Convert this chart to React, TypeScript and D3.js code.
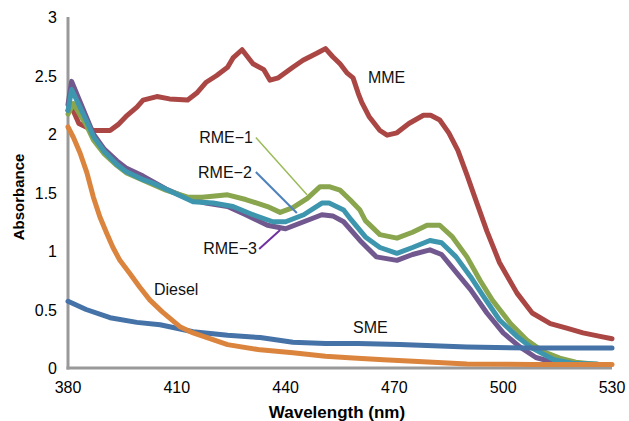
import * as d3 from 'd3';
import React, { useEffect, useRef } from 'react';

// wavelength (nm), absorbance
const mme: [number, number][] = [
    [380, 2.2], [381, 2.23], [383, 2.09], [387, 2.03], [391.6, 2.03], [393.8, 2.08],
    [396, 2.15], [399, 2.23], [400.7, 2.29], [404.5, 2.32], [408, 2.3], [413, 2.29], [415.5, 2.35],
    [418, 2.44], [421, 2.5], [424, 2.57], [425.5, 2.65], [428, 2.72], [429.5, 2.66],
    [431, 2.6], [434, 2.55], [435.7, 2.46], [438, 2.48], [442, 2.57], [444.8, 2.63],
    [448.6, 2.69], [451, 2.73], [453, 2.66], [455, 2.6], [457, 2.52], [458.6, 2.48],
    [460, 2.35], [461, 2.27], [463, 2.15], [466, 2.03], [468, 1.99], [470.7, 2.01],
    [474, 2.09], [478, 2.16], [480, 2.16], [482.5, 2.12], [485, 2.01], [487.5, 1.86],
    [490, 1.65], [492.5, 1.43], [495.5, 1.17], [499, 0.9], [503.8, 0.64], [508, 0.47],
    [513, 0.38], [517.5, 0.34], [522, 0.3], [526.7, 0.27], [530, 0.25],
];
const rme1: [number, number][] = [
    [380, 2.17], [381.5, 2.26], [383, 2.18], [385, 2.08], [387, 1.95], [390, 1.83],
    [393.5, 1.73], [396, 1.67], [401.8, 1.59], [407, 1.52], [413, 1.46], [417, 1.46],
    [424, 1.48], [429, 1.44], [435, 1.38], [438.5, 1.33], [442, 1.37], [446, 1.45],
    [449.5, 1.55], [452, 1.55], [455, 1.52], [457.7, 1.44], [460.5, 1.35], [462, 1.26],
    [466, 1.14], [470.7, 1.11], [475, 1.16], [479, 1.22], [482.5, 1.22], [486, 1.12],
    [490, 0.95], [493.6, 0.75], [497, 0.58], [502, 0.38], [506.5, 0.24], [511, 0.14],
    [515.6, 0.085], [520, 0.05], [526, 0.03],
];
const rme2: [number, number][] = [
    [380, 2.2], [381, 2.38], [383, 2.25], [385, 2.12], [387, 1.98], [390, 1.85],
    [393.5, 1.74], [396, 1.68], [400.7, 1.61], [403.4, 1.58], [409, 1.5], [414.5, 1.42],
    [420, 1.41], [425.5, 1.38], [431, 1.31], [436.5, 1.25], [440, 1.25], [445, 1.31],
    [450, 1.41], [452, 1.41], [456, 1.35], [458, 1.27], [462, 1.12], [466, 1.03],
    [470.7, 0.98], [475, 1.03], [479.8, 1.09], [483, 1.07], [487, 0.95], [491, 0.78],
    [494.6, 0.61], [499, 0.41], [503.8, 0.27], [508, 0.17], [514, 0.07], [519, 0.04],
    [526, 0.035],
];
const rme3: [number, number][] = [
    [380, 2.25], [381, 2.45], [383, 2.3], [385, 2.15], [387, 2.0], [390, 1.87],
    [393.5, 1.77], [396, 1.71], [400.7, 1.64], [407, 1.53], [413, 1.45], [418, 1.41],
    [424, 1.38], [429, 1.31], [435, 1.22], [440, 1.19], [445, 1.25], [450, 1.31],
    [453, 1.3], [456, 1.25], [460.5, 1.09], [465, 0.95], [470.7, 0.92], [475, 0.97],
    [479.8, 1.01], [483, 0.97], [487, 0.82], [491, 0.67], [495.5, 0.47], [500, 0.3],
    [504.6, 0.18], [509, 0.09], [513.7, 0.05], [520, 0.04],
];
const diesel: [number, number][] = [
    [380, 2.06], [381.5, 1.97], [383.3, 1.84], [385.2, 1.67], [387, 1.46], [388.8, 1.29],
    [390.7, 1.15], [392.4, 1.03], [394.3, 0.92], [397, 0.81], [399.8, 0.69], [402.6, 0.58],
    [406, 0.48], [411, 0.35], [414.5, 0.3], [424, 0.2], [433, 0.155], [442, 0.13],
    [451, 0.1], [458.6, 0.085], [467, 0.07], [480.6, 0.05], [490, 0.035], [508, 0.03],
    [530, 0.03],
];
const sme: [number, number][] = [
    [380, 0.57], [385, 0.5], [391.6, 0.43], [399, 0.39], [405.4, 0.37], [414.5, 0.31],
    [424, 0.28], [433, 0.26], [442, 0.22], [451, 0.21], [460, 0.21], [471.5, 0.2],
    [490, 0.18], [508, 0.17], [530, 0.17],
];

const xTicks = [380, 410, 440, 470, 500, 530];
const yTicks = [0, 0.5, 1, 1.5, 2, 2.5, 3];

const App = () => {
    const svgRef = useRef<SVGSVGElement | null>(null);

    useEffect(() => {
        const width = 629;
        const height = 421;
        const svg = d3.select(svgRef.current);
        svg.selectAll('*').remove();

        const x = d3.scaleLinear().domain([380, 530]).range([68, 612]);
        const y = d3.scaleLinear().domain([0, 3]).range([368, 17]);

        const font = '"Liberation Sans", Arial, Helvetica, sans-serif';
        svg.attr('width', width).attr('height', height).style('font-family', font);

        const line = d3
            .line<[number, number]>()
            .x((d) => x(d[0]))
            .y((d) => y(d[1]));

        const series = [
            { data: mme, color: '#AA4643' },
            { data: rme3, color: '#71588F' },
            { data: rme1, color: '#89A54E' },
            { data: rme2, color: '#3D96AE' },
            { data: sme, color: '#4572A7' },
            { data: diesel, color: '#DB843D' },
        ];

        // axes (no tick marks, just the grey lines)
        svg.append('line')
            .attr('x1', x(380)).attr('x2', x(380))
            .attr('y1', y(3)).attr('y2', y(0) + 1.5)
            .attr('stroke', '#999').attr('stroke-width', 3);
        svg.append('line')
            .attr('x1', x(380) - 1.5).attr('x2', x(530))
            .attr('y1', y(0)).attr('y2', y(0))
            .attr('stroke', '#999').attr('stroke-width', 3);

        series.forEach((s) => {
            svg.append('path')
                .datum(s.data)
                .attr('d', line)
                .attr('fill', 'none')
                .attr('stroke', s.color)
                .attr('stroke-width', 5)
                .attr('stroke-linejoin', 'round')
                .attr('stroke-linecap', 'round');
        });

        svg.append('g')
            .selectAll('text')
            .data(yTicks)
            .join('text')
            .attr('x', 57)
            .attr('y', (d) => y(d) + 6)
            .attr('text-anchor', 'end')
            .attr('font-size', 16)
            .text((d) => String(d));

        svg.append('g')
            .selectAll('text')
            .data(xTicks)
            .join('text')
            .attr('x', (d) => x(d))
            .attr('y', 393)
            .attr('text-anchor', 'middle')
            .attr('font-size', 16)
            .text((d) => String(d));

        svg.append('text')
            .attr('x', 337)
            .attr('y', 418)
            .attr('text-anchor', 'middle')
            .attr('font-size', 17)
            .attr('font-weight', 'bold')
            .text('Wavelength (nm)');

        svg.append('text')
            .attr('transform', 'translate(24,197) rotate(-90)')
            .attr('text-anchor', 'middle')
            .attr('font-size', 15)
            .attr('font-weight', 'bold')
            .text('Absorbance');

        // series labels
        const labels = [
            { text: 'MME', at: [462.7, 2.44], anchor: 'start' },
            { text: 'RME\u22121', at: [431, 1.92], anchor: 'end' },
            { text: 'RME\u22122', at: [430.7, 1.62], anchor: 'end' },
            { text: 'RME\u22123', at: [432.1, 0.974], anchor: 'end' },
            { text: 'Diesel', at: [403.7, 0.624], anchor: 'start' },
            { text: 'SME', at: [458.6, 0.3], anchor: 'start' },
        ];
        svg.append('g')
            .selectAll('text')
            .data(labels)
            .join('text')
            .attr('x', (d) => x(d.at[0]))
            .attr('y', (d) => y(d.at[1]))
            .attr('text-anchor', (d) => d.anchor)
            .attr('font-size', 16)
            .attr('fill', '#111')
            .text((d) => d.text);

        const leaders = [
            { from: [431.8, 1.97], to: [445.9, 1.48], color: '#9BBB59', w: 1.5 },
            { from: [431.8, 1.675], to: [443.1, 1.325], color: '#4F81BD', w: 2 },
            { from: [432.7, 1.017], to: [438.5, 1.18], color: '#7030A0', w: 2 },
        ];
        leaders.forEach((l) => {
            svg.append('line')
                .attr('x1', x(l.from[0])).attr('y1', y(l.from[1]))
                .attr('x2', x(l.to[0])).attr('y2', y(l.to[1]))
                .attr('stroke', l.color)
                .attr('stroke-width', l.w);
        });
    }, []);

    return (
        <svg
            ref={svgRef}
            style={{ position: 'absolute', left: 0, top: 0, background: '#fff' }}
        />
    );
};

export default App;
